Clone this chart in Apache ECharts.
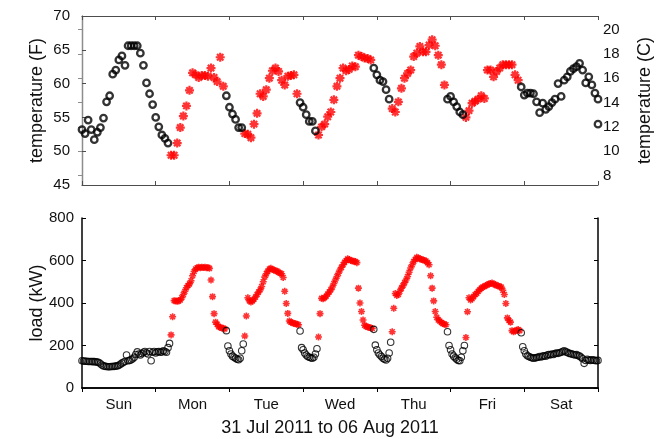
<!DOCTYPE html>
<html>
<head>
<meta charset="utf-8">
<script src="https://cdn.jsdelivr.net/npm/echarts@6/dist/echarts.min.js"></script>
<style>
  html, body { margin: 0; padding: 0; background: #fff; }
  #chart { width: 664px; height: 439px; }
</style>
</head>
<body>
<div id="chart"></div>
<script>
// Week of 31 Jul - 06 Aug 2011: outdoor temperature (hourly) and building load (half-hourly)
const dayNames = ['Sun', 'Mon', 'Tue', 'Wed', 'Thu', 'Fri', 'Sat'];
const xLabel = '31 Jul 2011 to 06 Aug 2011';

// Temperature in degrees F, one reading per hour, starting at midnight
const tempSun = [53.2, 52.6, 54.6, 53.2, 51.7, 52.8, 53.5, 54.9, 57.3, 58.2, 61.4, 62.0, 63.5, 64.1, 62.7, 65.6, 65.6, 65.6, 65.6, 64.5, 62.7, 60.1, 58.5, 56.9];
const tempMon = [55.0, 53.6, 52.4, 51.9, 51.2, 49.4, 49.4, 51.2, 53.5, 55.2, 56.7, 59.0, 61.6, 61.3, 60.9, 61.2, 61.2, 61.1, 62.3, 60.9, 60.3, 63.9, 59.6, 58.2];
const tempTue = [56.5, 55.5, 54.7, 53.5, 53.5, 52.6, 52.5, 52.0, 54.0, 55.6, 58.5, 58.1, 59.1, 60.8, 61.9, 62.3, 61.8, 60.5, 59.8, 61.1, 61.2, 61.3, 58.5, 57.2];
const tempWed = [56.5, 55.4, 54.4, 54.4, 53.0, 52.4, 53.6, 54.0, 55.1, 55.8, 57.6, 59.6, 60.8, 62.3, 61.9, 62.1, 62.6, 62.5, 64.2, 64.0, 63.8, 63.7, 63.5, 62.3];
const tempThu = [61.3, 60.5, 60.3, 59.1, 57.7, 56.3, 55.8, 57.3, 59.3, 60.8, 61.5, 62.0, 64.0, 64.5, 65.5, 64.7, 64.7, 65.7, 66.5, 65.6, 64.2, 62.8, 59.8, 57.7];
const tempFri = [58.1, 57.3, 56.6, 55.8, 55.4, 55.0, 56.0, 57.1, 57.4, 57.7, 58.2, 57.8, 62.0, 62.0, 61.0, 61.8, 62.3, 62.8, 62.8, 62.8, 62.8, 61.3, 60.5, 59.5];
const tempSat = [58.3, 58.6, 58.6, 58.5, 57.3, 55.7, 57.1, 56.2, 56.6, 57.2, 57.7, 60.0, 58.1, 60.5, 61.0, 61.8, 62.2, 62.5, 63.0, 62.0, 60.1, 61.0, 59.8, 58.6];
const tempEnd = [57.7, 54.0];   // readings logged at the very end of the week

// Electrical load in kW, one reading per half hour, starting at midnight
const loadSun = [128, 127, 126, 126, 125, 125, 125, 124, 124, 123, 122, 120, 114, 108, 104, 102, 101, 100, 100, 101, 101, 102, 103, 104, 107, 112, 117, 121, 125, 155, 128, 130, 133, 138, 145, 158, 170, 160, 155, 162, 168, 172, 165, 160, 172, 128, 168, 172];
const loadMon = [165, 170, 172, 168, 170, 175, 172, 168, 190, 210, 250, 335, 411, 410, 408, 410, 414, 425, 440, 455, 472, 482, 490, 505, 528, 548, 560, 566, 568, 566, 568, 567, 568, 566, 567, 563, 508, 430, 350, 310, 300, 289, 285, 282, 281, 278, 270, 198];
const loadTue = [175, 160, 150, 145, 140, 135, 133, 140, 175, 207, 245, 339, 425, 410, 405, 410, 418, 428, 440, 452, 462, 478, 500, 522, 538, 550, 560, 563, 558, 555, 552, 550, 545, 540, 538, 520, 455, 398, 351, 315, 310, 307, 304, 302, 300, 298, 268, 190];
const loadWed = [180, 165, 155, 148, 145, 142, 140, 145, 160, 185, 240, 350, 422, 420, 425, 432, 442, 452, 462, 475, 492, 508, 525, 540, 555, 568, 580, 592, 600, 608, 605, 600, 598, 597, 595, 590, 470, 400, 360, 320, 295, 290, 287, 285, 283, 280, 276, 202];
const loadThu = [180, 165, 155, 148, 140, 135, 132, 140, 165, 215, 265, 375, 445, 435, 440, 455, 470, 482, 495, 508, 525, 545, 565, 580, 595, 605, 615, 612, 608, 605, 603, 600, 598, 590, 580, 528, 470, 410, 360, 333, 320, 315, 308, 303, 300, 298, 265, 200];
const loadFri = [180, 160, 150, 142, 135, 130, 128, 145, 175, 200, 238, 359, 425, 414, 420, 430, 440, 445, 455, 462, 470, 475, 478, 482, 486, 490, 492, 494, 490, 486, 483, 480, 478, 475, 460, 440, 398, 330, 318, 310, 270, 265, 268, 272, 275, 270, 260, 194];
const loadSat = [175, 160, 152, 148, 145, 142, 140, 142, 143, 145, 148, 146, 150, 152, 150, 155, 158, 156, 160, 158, 162, 165, 163, 166, 168, 172, 175, 170, 168, 163, 162, 160, 158, 155, 157, 153, 150, 145, 138, 116, 130, 135, 132, 130, 133, 131, 130, 128];
const loadEnd = [130];

// Occupied hours: weekdays from 05:00 until 23:00
const OPEN_HOUR = 5, CLOSE_HOUR = 23;
function isOccupied(hour) {
  const day = Math.floor(hour / 24);
  const hod = hour - day * 24;
  return day >= 1 && day <= 5 && hod >= OPEN_HOUR && hod < CLOSE_HOUR;
}

function toPoints(dayArrays, stepHours, endValues) {
  const pts = [];
  dayArrays.forEach((arr, d) => arr.forEach((v, i) => pts.push([d * 24 + i * stepHours, v])));
  endValues.forEach(v => pts.push([168, v]));
  return pts;
}

const tempPts = toPoints([tempSun, tempMon, tempTue, tempWed, tempThu, tempFri, tempSat], 1, tempEnd);
const loadPts = toPoints([loadSun, loadMon, loadTue, loadWed, loadThu, loadFri, loadSat], 0.5, loadEnd);

const F2C = f => (f - 32) * 5 / 9;
const FONT = 'Liberation Sans';
const TXT = '#111';
const STAR = 'path://M5,0L5,10M0,5L10,5M1.46,1.46L8.54,8.54M1.46,8.54L8.54,1.46';
const RED = '#ff0000';

const topLine = { lineStyle: { color: '#4d4d4d', width: 1.2 } };
const botLine = { lineStyle: { color: '#000', width: 1.5 } };

const chart = echarts.init(document.getElementById('chart'), null, { renderer: 'canvas' });

chart.setOption({
  animation: false,
  backgroundColor: '#fff',
  grid: [
    { left: 82, top: 16, width: 516, height: 169 },
    { left: 82, top: 218, width: 516, height: 170 }
  ],
  xAxis: [
    // upper panel, bottom border with day ticks
    { gridIndex: 0, type: 'value', position: 'bottom', min: 0, max: 168, interval: 24,
      axisLine: topLine, axisTick: { inside: true, length: 4, lineStyle: { color: '#4d4d4d' } },
      axisLabel: { show: false }, splitLine: { show: false } },
    // upper panel, top border
    { gridIndex: 0, type: 'value', position: 'top', min: 0, max: 168, interval: 24,
      axisLine: topLine, axisTick: { inside: true, length: 4, lineStyle: { color: '#4d4d4d' } },
      axisLabel: { show: false }, splitLine: { show: false } },
    // lower panel, weekday labels
    { gridIndex: 1, type: 'category', position: 'bottom', data: dayNames, boundaryGap: true,
      axisLine: botLine, axisTick: { inside: true, length: 4, lineStyle: { color: '#000' } },
      axisLabel: { margin: 9, fontSize: 15, color: TXT, fontFamily: FONT }, splitLine: { show: false } },
    // lower panel, hour scale on the top border
    { gridIndex: 1, type: 'value', position: 'top', min: 0, max: 168, interval: 24,
      axisLine: botLine, axisTick: { inside: true, length: 4, lineStyle: { color: '#000' } },
      axisLabel: { show: false }, splitLine: { show: false } }
  ],
  yAxis: [
    { gridIndex: 0, type: 'value', position: 'left', min: 45, max: 70, interval: 5,
      name: 'temperature (F)', nameLocation: 'middle', nameGap: 36, nameRotate: 90, nameMoveOverlap: false,
      nameTextStyle: { fontSize: 18, color: TXT, fontFamily: FONT },
      axisLine: { show: true, lineStyle: { color: '#4d4d4d', width: 1.2 } },
      axisTick: { inside: true, length: 4, lineStyle: { color: '#4d4d4d' } },
      axisLabel: { margin: 12, fontSize: 15, color: TXT, fontFamily: FONT },
      splitLine: { show: false } },
    { gridIndex: 0, type: 'value', position: 'right', min: F2C(45), max: F2C(70),
      name: 'temperature (C)', nameLocation: 'middle', nameGap: 38, nameRotate: 90, nameMoveOverlap: false,
      nameTextStyle: { fontSize: 18, color: TXT, fontFamily: FONT },
      axisLine: { show: true, lineStyle: { color: '#8c8c8c', width: 1.2 } },
      axisTick: { inside: true, length: 4, lineStyle: { color: '#8c8c8c' }, customValues: [8, 10, 12, 14, 16, 18, 20] },
      axisLabel: { margin: 5, fontSize: 15, color: TXT, fontFamily: FONT, customValues: [8, 10, 12, 14, 16, 18, 20] },
      splitLine: { show: false } },
    { gridIndex: 1, type: 'value', position: 'left', min: 0, max: 800, interval: 200,
      name: 'load (kW)', nameLocation: 'middle', nameGap: 36, nameRotate: 90, nameMoveOverlap: false,
      nameTextStyle: { fontSize: 18, color: TXT, fontFamily: FONT },
      axisLine: { show: true, ...botLine },
      axisTick: { inside: true, length: 4, lineStyle: { color: '#000' } },
      axisLabel: { margin: 8, fontSize: 15, color: TXT, fontFamily: FONT },
      splitLine: { show: false } },
    { gridIndex: 1, type: 'value', position: 'right', min: 0, max: 800, interval: 200,
      axisLine: { show: true, ...botLine },
      axisTick: { inside: true, length: 4, lineStyle: { color: '#000' } },
      axisLabel: { show: false }, splitLine: { show: false } }
  ],
  series: [
    { type: 'scatter', xAxisIndex: 0, yAxisIndex: 0, symbol: STAR, symbolSize: 9,
      itemStyle: { color: RED, borderColor: RED, borderWidth: 2.2 },
      data: tempPts.filter(p => isOccupied(p[0])), silent: true },
    { type: 'scatter', xAxisIndex: 0, yAxisIndex: 0, symbol: 'circle', symbolSize: 6.5,
      itemStyle: { color: 'rgba(0,0,0,0)', borderColor: '#000', borderWidth: 2.3 },
      data: tempPts.filter(p => !isOccupied(p[0])), silent: true },
    { type: 'scatter', xAxisIndex: 3, yAxisIndex: 2, symbol: STAR, symbolSize: 7,
      itemStyle: { color: RED, borderColor: RED, borderWidth: 1.6 },
      data: loadPts.filter(p => isOccupied(p[0])), silent: true },
    { type: 'scatter', xAxisIndex: 3, yAxisIndex: 2, symbol: 'circle', symbolSize: 6.5,
      itemStyle: { color: 'rgba(0,0,0,0)', borderColor: '#000', borderWidth: 1.1 },
      data: loadPts.filter(p => !isOccupied(p[0])), silent: true }
  ],
  graphic: [
    { type: 'text', x: 330, y: 428,
      style: { text: xLabel, fill: TXT, font: '18px "Liberation Sans"', align: 'center', verticalAlign: 'middle' } }
  ]
});
</script>
</body>
</html>
